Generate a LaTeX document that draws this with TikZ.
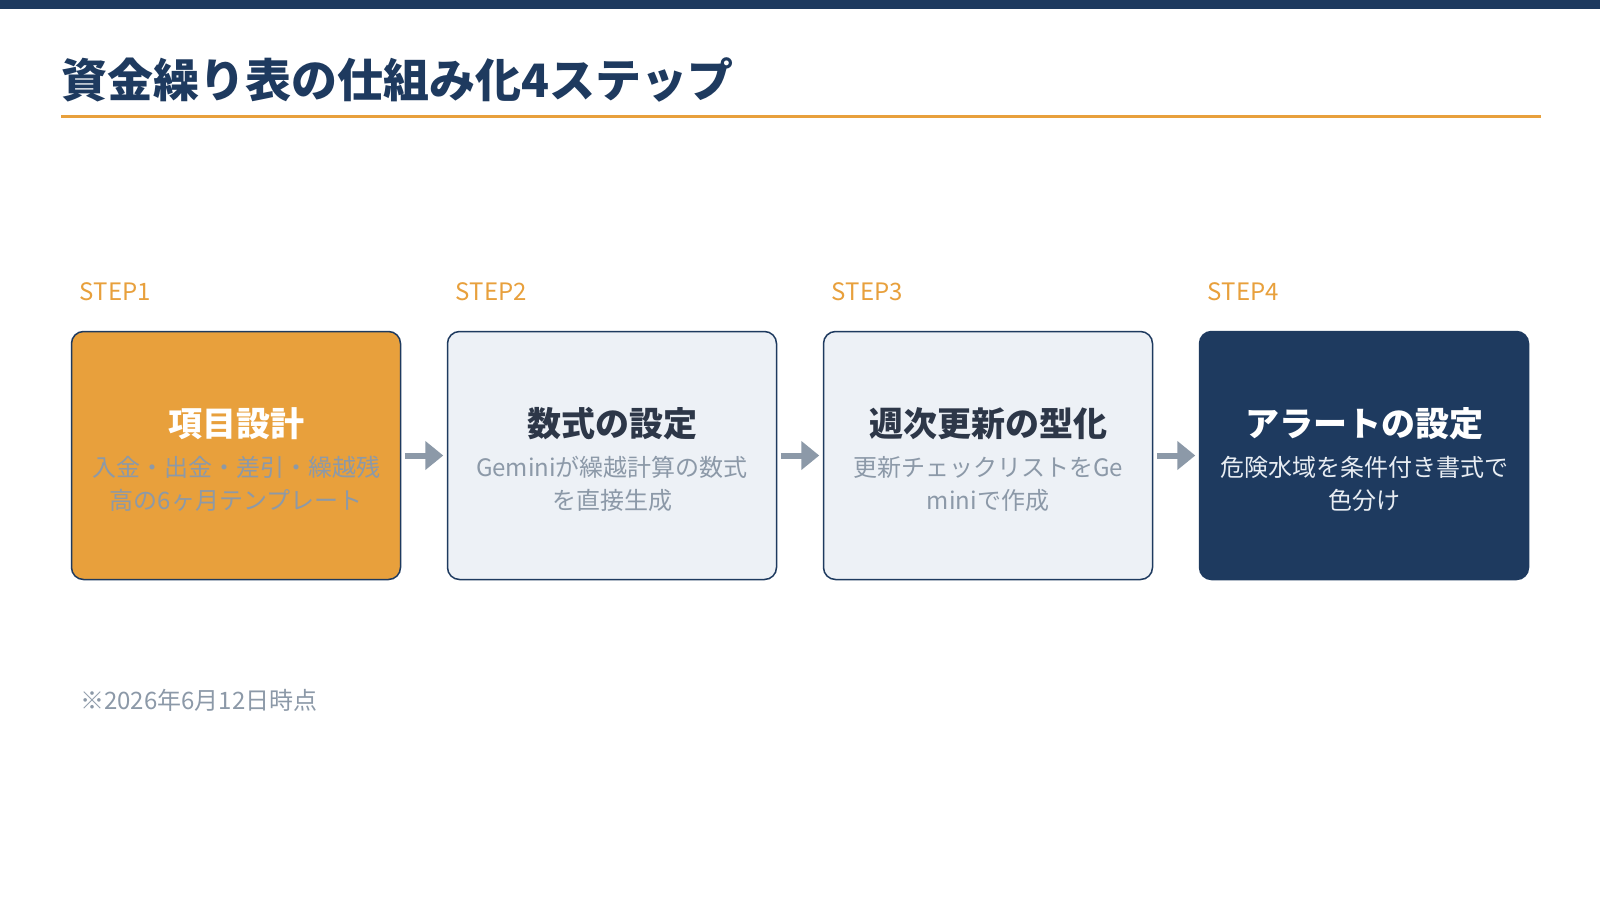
\documentclass[tikz,border=0pt]{standalone}
\usepackage{fontspec}
\setmainfont{Noto Sans CJK JP}
\usetikzlibrary{positioning,arrows.meta}
\definecolor{navy}{HTML}{1E3A5F}
\definecolor{accent}{HTML}{E8A03C}
\definecolor{paper}{HTML}{EDF1F6}
\definecolor{muted}{HTML}{8C99A8}
\definecolor{ink}{HTML}{2D3748}
\definecolor{pale}{HTML}{E8EDF3}

\begin{document}
\begin{tikzpicture}[x=1pt,y=-1pt,
    stepbox/.style={draw=navy,line width=1.5pt,rounded corners=12pt,minimum width=329pt,minimum height=248pt},
    steplabel/.style={anchor=west,text=accent,font=\fontsize{24}{28}\selectfont,inner sep=0pt},
    boxtitle/.style={font=\bfseries\fontsize{34}{40}\selectfont,inner sep=0pt},
    boxdesc/.style={align=center,font=\fontsize{24}{32.5}\selectfont,inner sep=0pt},
    flow/.style={-{Triangle[length=18pt,width=28pt]},line width=6pt,draw=muted,shorten <=3.5pt,shorten >=3.5pt}]
  \useasboundingbox[fill=white] (0,0) rectangle (1600,900);
  \fill[navy] (0,0) rectangle (1600,9);
  \node[anchor=west,inner sep=0pt,text=navy,font=\bfseries\fontsize{46}{52}\selectfont] (title) at (61,80) {資金繰り表の仕組み化4ステップ};
  \draw[accent,line width=3pt] (61,116) -- (1541,116);

  \node[stepbox,fill=accent] (items) at (236,455.5) {};
  \node[stepbox,fill=paper,right=45.5pt of items] (formula) {};
  \node[stepbox,fill=paper,right=45.5pt of formula] (weekly) {};
  \node[stepbox,fill=navy,right=45.5pt of weekly] (alert) {};

  \node[steplabel] (itemsstep) at ([xshift=9pt,yshift=39.5pt]items.north west) {STEP1};
  \node[steplabel] (formulastep) at ([xshift=9pt,yshift=39.5pt]formula.north west) {STEP2};
  \node[steplabel] (weeklystep) at ([xshift=9pt,yshift=39.5pt]weekly.north west) {STEP3};
  \node[steplabel] (alertstep) at ([xshift=9pt,yshift=39.5pt]alert.north west) {STEP4};

  \node[boxtitle,text=white] (itemstitle) at ([yshift=31.5pt]items.center) {項目設計};
  \node[boxdesc,text=muted] (itemsdesc) at ([yshift=-28.5pt]items.center) {入金・出金・差引・繰越残\\高の6ヶ月テンプレート};
  \node[boxtitle,text=ink] (formulatitle) at ([yshift=31.5pt]formula.center) {数式の設定};
  \node[boxdesc,text=muted] (formuladesc) at ([yshift=-28.5pt]formula.center) {Geminiが繰越計算の数式\\を直接生成};
  \node[boxtitle,text=ink] (weeklytitle) at ([yshift=31.5pt]weekly.center) {週次更新の型化};
  \node[boxdesc,text=muted] (weeklydesc) at ([yshift=-28.5pt]weekly.center) {更新チェックリストをGe\\miniで作成};
  \node[boxtitle,text=white] (alerttitle) at ([yshift=31.5pt]alert.center) {アラートの設定};
  \node[boxdesc,text=pale] (alertdesc) at ([yshift=-28.5pt]alert.center) {危険水域を条件付き書式で\\色分け};

  \draw[flow] (items) -- (formula);
  \draw[flow] (formula) -- (weekly);
  \draw[flow] (weekly) -- (alert);

  \node[anchor=west,inner sep=0pt,text=muted,font=\fontsize{24}{28}\selectfont] (note) at (80,700) {※2026年6月12日時点};
\end{tikzpicture}
\end{document}
